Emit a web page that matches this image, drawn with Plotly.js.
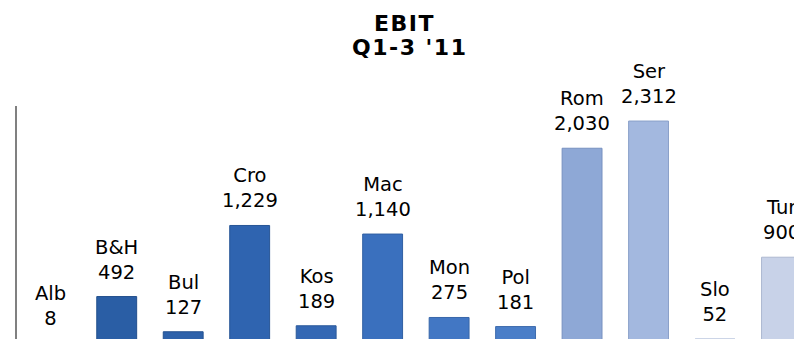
<!DOCTYPE html>
<html>
<head>
<meta charset="utf-8">
<script src="https://cdn.plot.ly/plotly-3.0.1.min.js"></script>
<style>
  html, body { margin: 0; padding: 0; overflow: hidden; background: #fff; }
  #chart { width: 794px; height: 346px; }
  g.annotation[data-index="12"] text, g.annotation[data-index="13"] text { letter-spacing: 1.5px; }
</style>
</head>
<body>
<div id="chart"></div>
<script>
// Data
const categories = ['Alb', 'B&H', 'Bul', 'Cro', 'Kos', 'Mac', 'Mon', 'Pol', 'Rom', 'Ser', 'Slo', 'Tur'];
const ebit = [8, 492, 127, 1229, 189, 1140, 275, 181, 2030, 2312, 52, 900];
const valueLabels = ['8', '492', '127', '1,229', '189', '1,140', '275', '181', '2,030', '2,312', '52', '900'];
const titleLines = ['EBIT', "Q1-3 '11"];

// Styles
const barColors = ['#21528f', '#2a5ea5', '#2d61aa', '#2f64b0', '#3468b4', '#3a70be', '#4277c4', '#4a7ec8',
                   '#8ea8d6', '#a3b8df', '#b6c6e5', '#c8d2e8'];
const lineColors = ['#1b4478', '#224f8c', '#255290', '#275596', '#2b599a', '#305fa3', '#3766a9', '#3e6cad',
                    '#7690c0', '#8aa0c9', '#9caed0', '#adb8d0'];

const labelFont = { family: 'Verdana, "DejaVu Sans", sans-serif', size: 19.5, color: '#000000' };
const titleFont = { family: 'Verdana, "DejaVu Sans", sans-serif', size: 22, color: '#000000', weight: 'bold' };

const trace = {
  type: 'bar',
  x: categories,
  y: ebit,
  marker: { color: barColors, line: { color: lineColors, width: 1 } },
  hoverinfo: 'skip'
};

const annotations = categories.map((c, i) => ({
  x: c, y: ebit[i], xref: 'x', yref: 'y',
  text: c + '<br>' + valueLabels[i],
  showarrow: false, xanchor: 'center', yanchor: 'bottom', yshift: 11,
  font: labelFont
}));

// plot area: top at 106px, bottom at 344px (238px tall)
annotations.push({
  xref: 'paper', yref: 'paper', x: 0.499, y: (344 - 24) / 238, xanchor: 'center', yanchor: 'middle',
  text: '<b>' + titleLines[0] + '</b>', showarrow: false, font: titleFont
});
annotations.push({
  xref: 'paper', yref: 'paper', x: 0.505, y: (344 - 48) / 238, xanchor: 'center', yanchor: 'middle',
  text: '<b>' + titleLines[1] + '</b>', showarrow: false, font: titleFont
});

const layout = {
  width: 794, height: 346,
  margin: { l: 17, r: 0, t: 106, b: 2, pad: 0 },
  paper_bgcolor: '#ffffff', plot_bgcolor: '#ffffff',
  showlegend: false,
  bargap: 0.4,
  xaxis: {
    type: 'category', range: [-0.5, 11.188], showline: false, showticklabels: false,
    ticks: '', showgrid: false, zeroline: false, fixedrange: true
  },
  yaxis: {
    range: [0, 2468], showline: true, linecolor: '#808080', linewidth: 2,
    showticklabels: false, ticks: '', showgrid: false, zeroline: false, fixedrange: true
  },
  annotations: annotations
};

Plotly.newPlot('chart', [trace], layout, { displayModeBar: false, staticPlot: true });
</script>
</body>
</html>
